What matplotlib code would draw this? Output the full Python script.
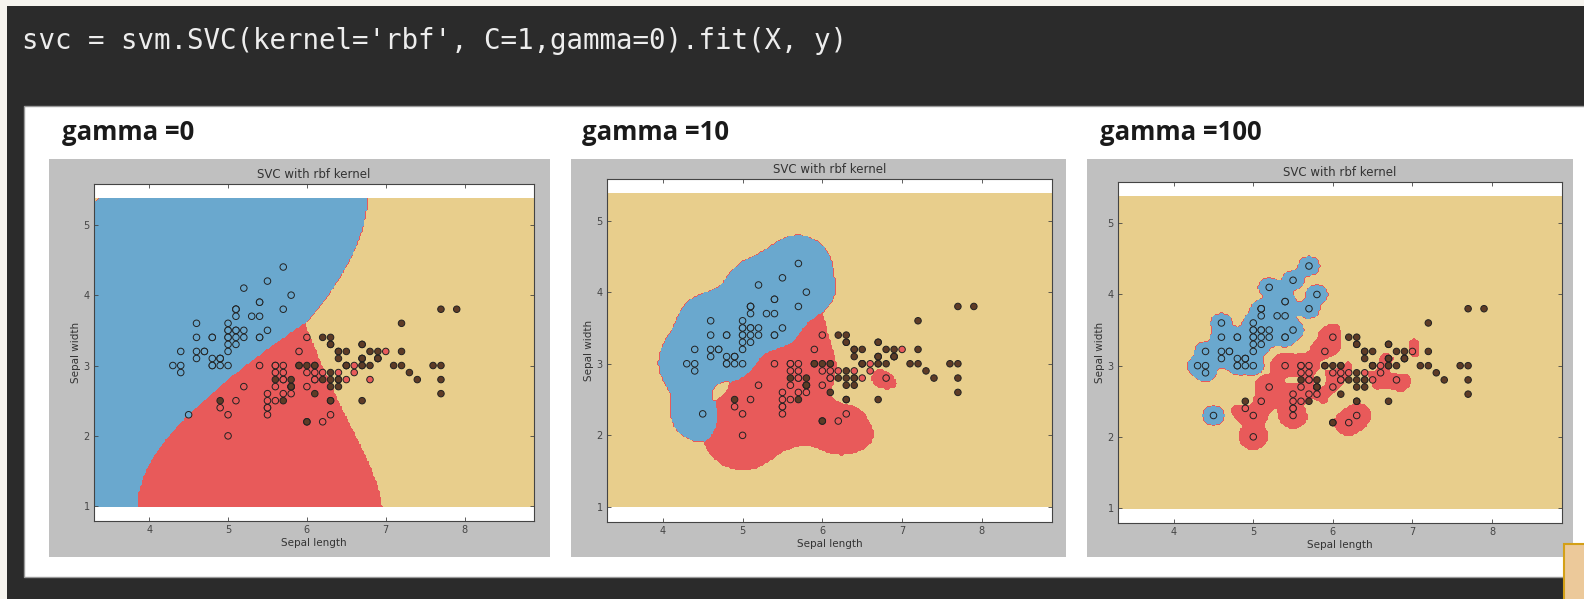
import numpy as np
import matplotlib
matplotlib.use("Agg")
import matplotlib.pyplot as plt
from matplotlib.patches import Rectangle

# iris data, first two features (sepal length, sepal width)
sepal_length = [
    5.1, 4.9, 4.7, 4.6, 5.0, 5.4, 4.6, 5.0, 4.4, 4.9, 5.4, 4.8, 4.8, 4.3, 5.8, 5.7, 5.4, 5.1, 5.7, 5.1,
    5.4, 5.1, 4.6, 5.1, 4.8, 5.0, 5.0, 5.2, 5.2, 4.7, 4.8, 5.4, 5.2, 5.5, 4.9, 5.0, 5.5, 4.9, 4.4, 5.1,
    5.0, 4.5, 4.4, 5.0, 5.1, 4.8, 5.1, 4.6, 5.3, 5.0,
    7.0, 6.4, 6.9, 5.5, 6.5, 5.7, 6.3, 4.9, 6.6, 5.2, 5.0, 5.9, 6.0, 6.1, 5.6, 6.7, 5.6, 5.8, 6.2, 5.6,
    5.9, 6.1, 6.3, 6.1, 6.4, 6.6, 6.8, 6.7, 6.0, 5.7, 5.5, 5.5, 5.8, 6.0, 5.4, 6.0, 6.7, 6.3, 5.6, 5.5,
    5.5, 6.1, 5.8, 5.0, 5.6, 5.7, 5.7, 6.2, 5.1, 5.7,
    6.3, 5.8, 7.1, 6.3, 6.5, 7.6, 4.9, 7.3, 6.7, 7.2, 6.5, 6.4, 6.8, 5.7, 5.8, 6.4, 6.5, 7.7, 7.7, 6.0,
    6.9, 5.6, 7.7, 6.3, 6.7, 7.2, 6.2, 6.1, 6.4, 7.2, 7.4, 7.9, 6.4, 6.3, 6.1, 7.7, 6.3, 6.4, 6.0, 6.9,
    6.7, 6.9, 5.8, 6.8, 6.7, 6.7, 6.3, 6.5, 6.2, 5.9]
sepal_width = [
    3.5, 3.0, 3.2, 3.1, 3.6, 3.9, 3.4, 3.4, 2.9, 3.1, 3.7, 3.4, 3.0, 3.0, 4.0, 4.4, 3.9, 3.5, 3.8, 3.8,
    3.4, 3.7, 3.6, 3.3, 3.4, 3.0, 3.4, 3.5, 3.4, 3.2, 3.1, 3.4, 4.1, 4.2, 3.1, 3.2, 3.5, 3.1, 3.0, 3.4,
    3.5, 2.3, 3.2, 3.5, 3.8, 3.0, 3.8, 3.2, 3.7, 3.3,
    3.2, 3.2, 3.1, 2.3, 2.8, 2.8, 3.3, 2.4, 2.9, 2.7, 2.0, 3.0, 2.2, 2.9, 2.9, 3.1, 3.0, 2.7, 2.2, 2.5,
    3.2, 2.8, 2.5, 2.8, 2.9, 3.0, 2.8, 3.0, 2.9, 2.6, 2.4, 2.4, 2.7, 2.7, 3.0, 3.4, 3.1, 2.3, 3.0, 2.5,
    2.6, 3.0, 2.6, 2.3, 2.7, 3.0, 2.9, 2.9, 2.5, 2.8,
    3.3, 2.7, 3.0, 2.9, 3.0, 3.0, 2.5, 2.9, 2.5, 3.6, 3.2, 2.7, 3.0, 2.5, 2.8, 3.2, 3.0, 3.8, 2.6, 2.2,
    3.2, 2.8, 2.8, 2.7, 3.3, 3.2, 2.8, 3.0, 2.8, 3.0, 2.8, 3.8, 2.8, 2.8, 2.6, 3.0, 3.4, 3.1, 3.0, 3.1,
    3.1, 3.1, 2.7, 3.2, 3.3, 3.0, 2.5, 3.0, 3.4, 3.0]
species = [0] * 50 + [1] * 50 + [2] * 50

gamma_labels = ["gamma =0", "gamma =10", "gamma =100"]
gamma_values = [0, 10, 100]
C_value = 1.0
code_line = "svc = svm.SVC(kernel='rbf', C=1,gamma=0).fit(X, y)"

class_colors = ["#6aa8ce", "#e85a5a", "#e8ce8c"]
point_colors = ["#6aa8ce", "#e85a5a", "#5e3b26"]

X = np.column_stack([sepal_length, sepal_width])
y = np.array(species)


def rbf(A, B, g):
    d = ((A[:, None, :] - B[None, :, :]) ** 2).sum(-1)
    return np.exp(-g * d)


def fit_binary(Xb, yb, g, C=1.0, tol=1e-3, max_iter=200000):
    # plain SMO with maximal violating pair, like libsvm
    n = len(yb)
    K = rbf(Xb, Xb, g)
    a = np.zeros(n)
    G = -np.ones(n)
    vi = vj = 0.0
    for _ in range(max_iter):
        up = ((yb > 0) & (a < C)) | ((yb < 0) & (a > 0))
        low = ((yb > 0) & (a > 0)) | ((yb < 0) & (a < C))
        v = -yb * G
        iu = np.where(up)[0]
        il = np.where(low)[0]
        i = iu[np.argmax(v[iu])]
        j = il[np.argmin(v[il])]
        vi, vj = v[i], v[j]
        if vi - vj < tol:
            break
        eta = max(K[i, i] + K[j, j] - 2 * K[i, j], 1e-12)
        t = (vi - vj) / eta
        t = min(t, C - a[i] if yb[i] > 0 else a[i], a[j] if yb[j] > 0 else C - a[j])
        a[i] += yb[i] * t
        a[j] -= yb[j] * t
        G += t * yb * (K[:, i] - K[:, j])
    free = (a > 1e-8) & (a < C - 1e-8)
    if free.any():
        rho = (yb[free] * G[free]).mean()
    else:
        rho = -(vi + vj) / 2
    return a * yb, rho


def svc_predict(X, y, g, C, P):
    votes = np.zeros((len(P), 3))
    for p in range(3):
        for q in range(p + 1, 3):
            m = (y == p) | (y == q)
            yb = np.where(y[m] == p, 1.0, -1.0)
            coef, rho = fit_binary(X[m], yb, g, C)
            f = rbf(P, X[m], g) @ coef - rho
            votes[:, p] += f > 0
            votes[:, q] += f <= 0
    return np.argmax(votes, axis=1)


h = 0.02
x_min, x_max = X[:, 0].min() - 1, X[:, 0].max() + 1
y_min, y_max = X[:, 1].min() - 1, X[:, 1].max() + 1
xx, yy = np.meshgrid(np.arange(x_min, x_max, h), np.arange(y_min, y_max, h))
grid = np.c_[xx.ravel(), yy.ravel()]

W, H = 1584, 599
fig = plt.figure(figsize=(W / 100, H / 100), dpi=100)
fig.patch.set_facecolor("#2b2b2b")


def box(x0, y0, x1, y1):
    return [x0 / W, 1 - y1 / H, (x1 - x0) / W, (y1 - y0) / H]


def rect(x0, y0, x1, y1, fc, ec="none", lw=0, z=-10):
    b = box(x0, y0, x1, y1)
    fig.add_artist(Rectangle((b[0], b[1]), b[2], b[3], transform=fig.transFigure,
                             facecolor=fc, edgecolor=ec, linewidth=lw, zorder=z))


# screenshot frame
rect(0, 0, W, 6, "#f6f4ef")
rect(0, 0, 7, H, "#f6f4ef")
rect(24, 106, W + 5, 577, "white", ec="#9a9a9a", lw=1.0)
fig.text(22 / W, 1 - 41 / H, code_line, family="DejaVu Sans Mono", fontsize=19.8,
         color="#ededed", va="center", ha="left")

panels = [(49, 159, 550, 557), (571, 159, 1066, 557), (1087, 159, 1573, 557)]
axes_px = [(94, 184, 534, 521), (607, 179, 1052, 522), (1118, 182, 1562, 523)]
label_x = [62, 582, 1100]

for k in range(3):
    rect(*panels[k], "#c0c0c0", z=-9)
    fig.text(label_x[k] / W, 1 - 133 / H, gamma_labels[k], family="Open Sans", weight="bold",
             fontsize=18.5, color="#1a1a1a", va="center", ha="left")

    g = gamma_values[k] if gamma_values[k] != 0 else 1.0 / X.shape[1]
    Z = svc_predict(X, y, g, C_value, grid).reshape(xx.shape)

    ax = fig.add_axes(box(*axes_px[k]))
    ax.contourf(xx, yy, Z, levels=[-0.5, 0.5, 1.5, 2.5], colors=class_colors)
    ax.scatter(X[:, 0], X[:, 1], c=[point_colors[c] for c in species], s=22,
               edgecolors="#222222", linewidths=0.7, zorder=3)
    ax.set_xlim(xx.min(), xx.max())
    ax.set_ylim(0.79, 5.58)
    ax.set_xticks([4, 5, 6, 7, 8])
    ax.set_yticks([1, 2, 3, 4, 5])
    ax.tick_params(direction="in", top=True, right=True, length=3, width=0.6,
                   labelsize=7, colors="#444444", pad=3)
    for s in ax.spines.values():
        s.set_color("#444444")
        s.set_linewidth(0.8)
    ax.set_title("SVC with rbf kernel", fontsize=8.5, color="#333333", pad=4)
    ax.set_xlabel("Sepal length", fontsize=7.5, color="#333333", labelpad=2)
    ax.set_ylabel("Sepal width", fontsize=7.5, color="#333333", labelpad=2)

# small tab in the bottom right corner
rect(1564, 544, W + 5, H + 5, "#ecc99a", ec="#d4a017", lw=1.5, z=-5)

fig.savefig("out.png", dpi=100, facecolor=fig.get_facecolor())
